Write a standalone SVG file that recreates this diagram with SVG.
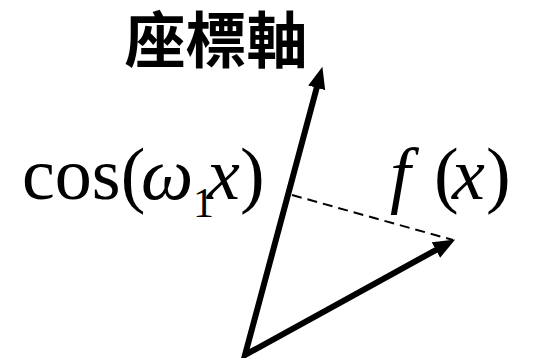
<svg xmlns="http://www.w3.org/2000/svg" width="556" height="358" viewBox="0 0 556 358">
<style>
.title{font-family:"Noto Sans CJK TC","Noto Sans CJK SC",sans-serif;font-weight:700;font-size:61px;fill:#000}
.math{font-family:"Liberation Serif",serif;font-size:74px;fill:#000}
.it{font-style:italic}
.vec{fill:none;stroke:#000;stroke-width:6;stroke-linejoin:miter}
.dash{fill:none;stroke:#000;stroke-width:2;stroke-dasharray:10 6}
</style>
<defs>
<marker id="ah" markerUnits="userSpaceOnUse" markerWidth="22" markerHeight="18" refX="6" refY="8" orient="auto-start-reverse" viewBox="0 0 20 16">
<path d="M0,0 L20,8 L0,16 Z" fill="#000"/>
</marker>
</defs>
<g id="title"><text class="title" x="216" y="63" text-anchor="middle">座標軸</text></g>
<g id="label-cos"><text class="math" y="199"><tspan x="22">cos(</tspan><tspan class="it" x="141">ω</tspan><tspan font-size="42" x="193" y="217">1</tspan><tspan class="it" x="207" y="199">x</tspan><tspan x="240">)</tspan></text></g>
<g id="label-f"><text class="math" y="199"><tspan class="it" x="390">f</tspan><tspan x="434">(</tspan><tspan class="it" x="452">x</tspan><tspan x="486">)</tspan></text></g>
<g id="connectors">
<path class="vec" d="M318.4,81.5 L245,355 L441.7,246.8" marker-start="url(#ah)" marker-end="url(#ah)"/>
<line class="dash" x1="292" y1="195" x2="453" y2="240"/>
</g>
</svg>
